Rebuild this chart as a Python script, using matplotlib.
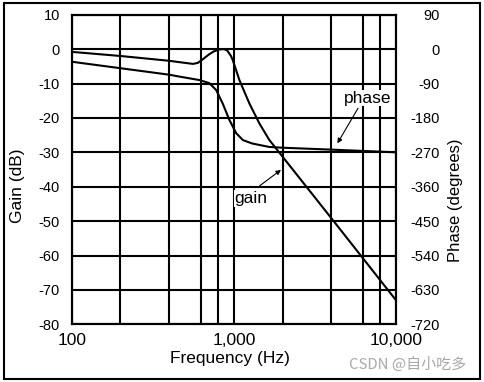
import matplotlib
matplotlib.use("Agg")
import matplotlib.pyplot as plt
from matplotlib.patches import Rectangle
from matplotlib.ticker import FixedLocator, NullFormatter

plt.rcParams['font.family'] = ['Liberation Sans', 'DejaVu Sans']
plt.rcParams['axes.unicode_minus'] = False

### data
gain_freq = [100, 200, 400, 463, 560, 600, 650, 700, 750, 810, 870, 910, 960, 985,
             1082, 1247, 1437, 1654, 2000, 4000, 10000]
gain_db = [-0.8, -2.0, -3.4, -3.8, -4.3, -4.0, -2.8, -1.6, -0.7, -0.1, 0.0, -0.4, -2.0, -3.2,
           -9.0, -15.8, -21.6, -26.4, -31.3, -49.2, -73.0]

phase_freq = [100, 200, 400, 463, 614, 706, 778, 853, 938, 1034, 1137, 1300, 1654, 2000, 4000, 10000]
phase_deg = [-33, -50, -67, -72, -81, -89, -107, -142, -185, -220, -238, -247, -256, -258, -263, -270]

major_freq = [100, 1000, 10000]
major_labels = ["100", "1,000", "10,000"]
grid_freq = [200, 400, 625, 800, 2000, 4000, 6250, 8000]
gain_ticks = list(range(-80, 11, 10))
phase_ticks = list(range(-720, 91, 90))

fig = plt.figure(figsize=(4.85, 3.82), dpi=100)
ax = fig.add_axes([0.1478, 0.151, 0.6687, 0.8105])
ax2 = ax.twinx()

ax.set_xscale('log')
ax.set_xlim(100, 10000)
ax.set_ylim(-80, 10)
ax2.set_ylim(-720, 90)

ax.xaxis.set_major_locator(FixedLocator(major_freq))
ax.set_xticklabels(major_labels)
ax.xaxis.set_minor_locator(FixedLocator(grid_freq))
ax.xaxis.set_minor_formatter(NullFormatter())
ax.set_yticks(gain_ticks)
ax2.set_yticks(phase_ticks)

ax.grid(True, which='both', color='black', lw=1.5)
ax.set_axisbelow(True)

ax.tick_params(axis='both', which='both', length=0)
ax.tick_params(axis='x', labelsize=12.5, pad=6)
ax.tick_params(axis='y', labelsize=10.5, pad=8.5)
ax2.tick_params(axis='y', length=0, labelsize=10.5, pad=31.5)
for lbl in ax2.get_yticklabels():
    lbl.set_horizontalalignment('right')

for a in (ax, ax2):
    for sp in a.spines.values():
        sp.set_linewidth(1.5)

ax.plot(gain_freq, gain_db, color='black', lw=1.5, zorder=3)
ax2.plot(phase_freq, phase_deg, color='black', lw=1.5, zorder=3)

# annotations
arrow = dict(arrowstyle='-|>', color='black', lw=0.8, mutation_scale=7, shrinkA=0, shrinkB=0)
ax2.annotate('', xy=(4351, -27.4 * 9), xytext=(5830, -17.2 * 9), arrowprops=arrow)
ax2.text(6653, -14.3 * 9, 'phase', ha='center', va='center', fontsize=12.5,
         bbox=dict(fc='white', ec='none', pad=0.5))
ax2.annotate('', xy=(1953, -35.1 * 9), xytext=(1437, -39.8 * 9), arrowprops=arrow)
ax2.text(1277, -43.4 * 9, 'gain', ha='center', va='center', fontsize=12.5,
         bbox=dict(fc='white', ec='none', pad=0.5))

fig.text(230 / 485, 1 - 359 / 382, 'Frequency (Hz)', ha='center', va='center', fontsize=12.5)
fig.text(18 / 485, 1 - 186 / 382, 'Gain (dB)', ha='center', va='center', rotation=90, fontsize=12.5)
fig.text(456 / 485, 1 - 200 / 382, 'Phase (degrees)', ha='center', va='center', rotation=90, fontsize=12)

fig.text(408 / 485, 1 - 364 / 382, 'CSDN @自小吃多', ha='center', va='center', fontsize=10.8,
         color='#a8a8a8', family=['Noto Sans CJK SC', 'DejaVu Sans'])

fig.patches.append(Rectangle((4 / 485, 3 / 382), 476 / 485, 376 / 382, transform=fig.transFigure,
                             fill=False, ec='black', lw=1.5))

fig.savefig('out.png', dpi=100)
